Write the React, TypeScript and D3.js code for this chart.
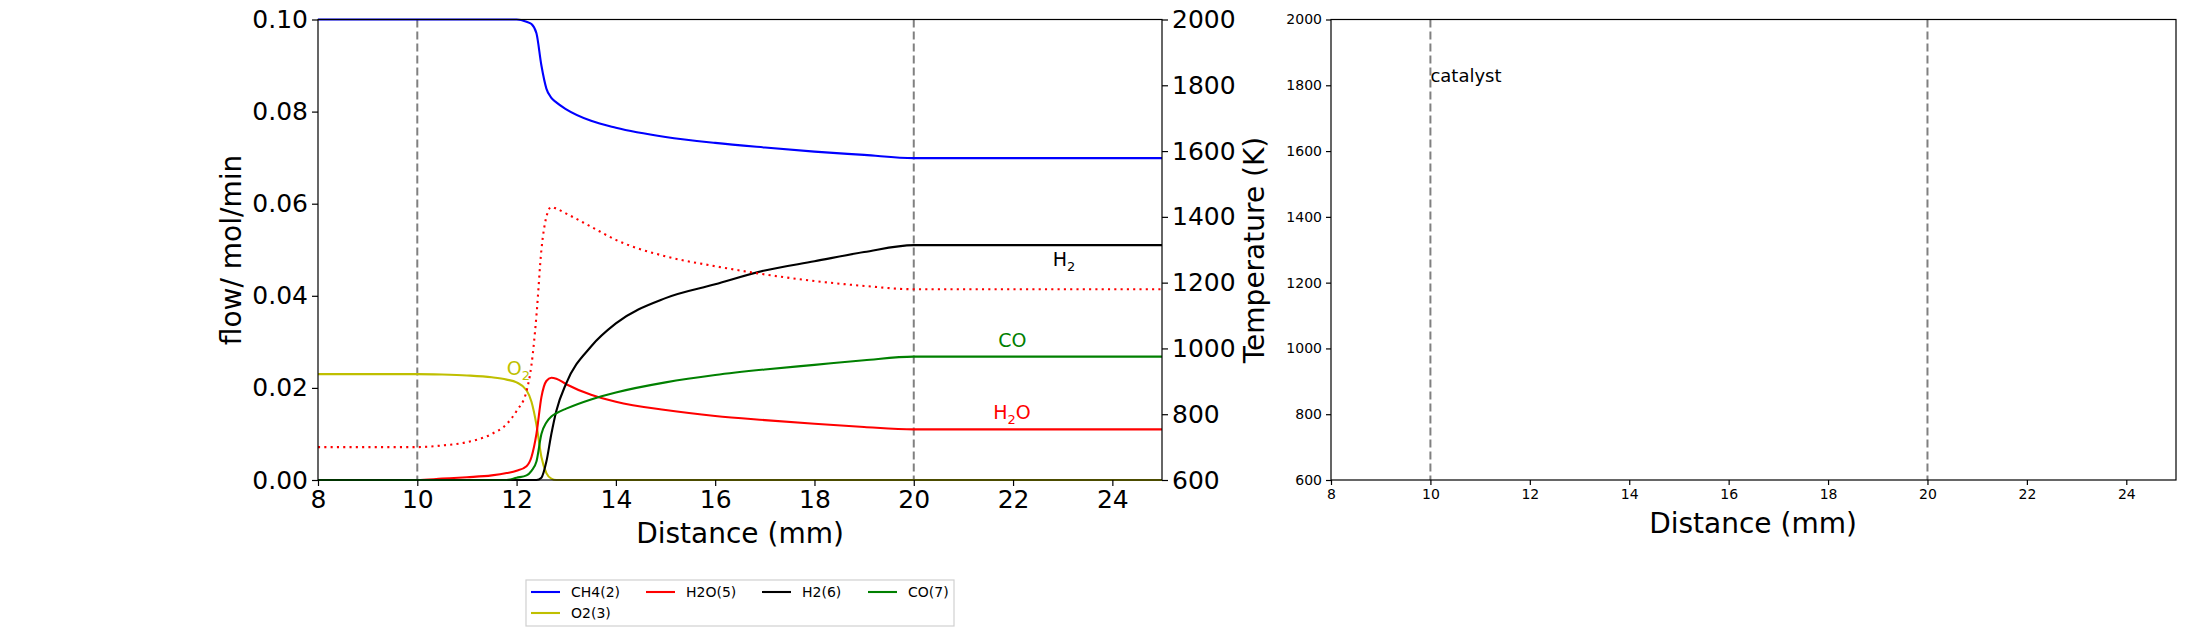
import { useEffect, useRef } from 'react'
import * as d3 from 'd3'

const distance = [8, 9, 10, 10.5, 11, 11.5, 11.8, 12, 12.2, 12.3, 12.4, 12.5, 12.6, 12.7, 12.8, 13, 13.5, 14, 15, 16, 17, 18, 19, 20, 21, 22, 23, 24, 25]
const ch4 = [0.1, 0.1, 0.1, 0.1, 0.1, 0.1, 0.1, 0.1, 0.0995, 0.099, 0.097, 0.09, 0.085, 0.083, 0.082, 0.0805, 0.078, 0.0765, 0.0745, 0.0732, 0.0722, 0.0713, 0.0706, 0.0699, 0.0699, 0.0699, 0.0699, 0.0699, 0.0699]
const o2 = [0.023, 0.023, 0.023, 0.0229, 0.0227, 0.0223, 0.0218, 0.0212, 0.0195, 0.017, 0.012, 0.005, 0.0015, 0.0003, 0, 0, 0, 0, 0, 0, 0, 0, 0, 0, 0, 0, 0, 0, 0]
const h2o = [0, 0, 0, 0.0003, 0.0006, 0.001, 0.0015, 0.002, 0.003, 0.005, 0.01, 0.018, 0.0215, 0.0222, 0.022, 0.0208, 0.0185, 0.017, 0.0152, 0.0139, 0.013, 0.0122, 0.0115, 0.011, 0.011, 0.011, 0.011, 0.011, 0.011]
const h2 = [0, 0, 0, 0, 0, 0, 0, 0, 0, 0, 0, 0.0005, 0.004, 0.01, 0.015, 0.021, 0.029, 0.034, 0.0395, 0.0425, 0.0455, 0.0475, 0.0495, 0.051, 0.051, 0.051, 0.051, 0.051, 0.051]
const co = [0, 0, 0, 0, 0, 0, 0, 0.0005, 0.001, 0.002, 0.004, 0.01, 0.0125, 0.0138, 0.0145, 0.0155, 0.0175, 0.019, 0.0212, 0.0228, 0.024, 0.025, 0.026, 0.0268, 0.0268, 0.0268, 0.0268, 0.0268, 0.0268]
const temperature = [700, 700, 700, 705, 715, 740, 770, 810, 870, 950, 1100, 1300, 1400, 1430, 1425, 1410, 1370, 1330, 1280, 1250, 1225, 1205, 1190, 1180, 1180, 1180, 1180, 1180, 1180]

const series = [
  { name: 'CH4(2)', values: ch4, color: '#0000ff' },
  { name: 'O2(3)', values: o2, color: '#bfbf00' },
  { name: 'H2O(5)', values: h2o, color: '#ff0000' },
  { name: 'H2(6)', values: h2, color: '#000000' },
  { name: 'CO(7)', values: co, color: '#008000' },
]
const labels = [
  { text: 'H', sub: '2', x: 22.8, y: 0.0465, color: '#000000' },
  { text: 'CO', sub: '', x: 21.7, y: 0.0288, color: '#008000' },
  { text: 'H', sub: '2', tail: 'O', x: 21.6, y: 0.0133, color: '#ff0000' },
  { text: 'O', sub: '2', x: 11.8, y: 0.0228, color: '#bfbf00' },
]
const catalystEdges = [10, 20]
const xTicks = [8, 10, 12, 14, 16, 18, 20, 22, 24]
const flowTicks = [0, 0.02, 0.04, 0.06, 0.08, 0.1]
const tempTicks = [600, 800, 1000, 1200, 1400, 1600, 1800, 2000]

export default function App() {
  const ref = useRef<SVGSVGElement | null>(null)

  useEffect(() => {
    const svg = d3.select(ref.current)
    svg.selectAll('*').remove()
    const font = 'DejaVu Sans'
    const top = 19.5, bottom = 480

    const styleAxis = (g: any, size: number) => {
      g.selectAll('text').style('font-family', font).style('font-size', `${size}px`).attr('fill', '#000')
      g.selectAll('line').attr('stroke', '#000').attr('stroke-width', 1.2)
      g.select('.domain').remove()
    }

    // Left panel
    const x = d3.scaleLinear().domain([8, 25]).range([318, 1162])
    const y = d3.scaleLinear().domain([0, 0.1]).range([bottom, top])
    const yT = d3.scaleLinear().domain([600, 2000]).range([bottom, top])

    catalystEdges.forEach(e => {
      svg.append('line').attr('x1', x(e)).attr('x2', x(e)).attr('y1', top).attr('y2', bottom)
        .attr('stroke', '#808080').attr('stroke-width', 2).attr('stroke-dasharray', '8,4')
    })

    const line = d3.line<number>().x((_, i) => x(distance[i])).y(d => y(d)).curve(d3.curveMonotoneX)
    series.forEach(s => {
      svg.append('path').datum(s.values).attr('fill', 'none').attr('stroke', s.color).attr('stroke-width', 2.1).attr('d', line)
    })
    const tLine = d3.line<number>().x((_, i) => x(distance[i])).y(d => yT(d)).curve(d3.curveMonotoneX)
    svg.append('path').datum(temperature).attr('fill', 'none').attr('stroke', '#ff0000').attr('stroke-width', 2.1)
      .attr('stroke-dasharray', '2.1,4.2').attr('d', tLine)

    labels.forEach(l => {
      const t = svg.append('text').attr('x', x(l.x)).attr('y', y(l.y)).attr('fill', l.color)
        .style('font-family', font).style('font-size', '19px').text(l.text)
      if (l.sub) t.append('tspan').attr('dy', 5).style('font-size', '13px').text(l.sub)
      if (l.tail) t.append('tspan').attr('dy', -5).text(l.tail)
    })

    svg.append('rect').attr('x', 318).attr('y', top).attr('width', 844).attr('height', bottom - top)
      .attr('fill', 'none').attr('stroke', '#000').attr('stroke-width', 1.2)

    styleAxis(svg.append('g').attr('transform', `translate(0,${bottom})`)
      .call(d3.axisBottom(x).tickValues(xTicks).tickFormat(d3.format('d')).tickSize(6).tickPadding(4)), 25)
    styleAxis(svg.append('g').attr('transform', `translate(318,0)`)
      .call(d3.axisLeft(y).tickValues(flowTicks).tickFormat(d3.format('.2f')).tickSize(6).tickPadding(4)), 25)
    styleAxis(svg.append('g').attr('transform', `translate(1162,0)`)
      .call(d3.axisRight(yT).tickValues(tempTicks).tickFormat(d3.format('d')).tickSize(6).tickPadding(4)), 25)

    svg.append('text').attr('x', 740).attr('y', 543).attr('text-anchor', 'middle')
      .style('font-family', font).style('font-size', '28px').text('Distance (mm)')
    svg.append('text').attr('transform', `translate(241,250) rotate(-90)`).attr('text-anchor', 'middle')
      .style('font-family', font).style('font-size', '28px').text('flow/ mol/min')
    svg.append('text').attr('transform', `translate(1264,250) rotate(-90)`).attr('text-anchor', 'middle')
      .style('font-family', font).style('font-size', '28px').text('Temperature (K)')

    // Legend
    const lg = svg.append('g').attr('transform', 'translate(526,580)')
    lg.append('rect').attr('width', 428).attr('height', 46).attr('fill', '#fff').attr('stroke', '#d0d0d0').attr('stroke-width', 1.2)
    const legendOrder = ['CH4(2)', 'H2O(5)', 'H2(6)', 'CO(7)', 'O2(3)']
    const colX = [5, 120, 236, 342]
    legendOrder.forEach((n, i) => {
      const s = series.find(d => d.name === n)!
      const cx = colX[i % 4], cy = i < 4 ? 12 : 33
      lg.append('line').attr('x1', cx).attr('x2', cx + 29).attr('y1', cy).attr('y2', cy).attr('stroke', s.color).attr('stroke-width', 2.1)
      lg.append('text').attr('x', cx + 40).attr('y', cy + 5).style('font-family', font).style('font-size', '14px').text(n)
    })

    // Right panel
    const x2 = d3.scaleLinear().domain([8, 25]).range([1331, 2176])
    const y2 = d3.scaleLinear().domain([600, 2000]).range([bottom, top])
    catalystEdges.forEach(e => {
      svg.append('line').attr('x1', x2(e)).attr('x2', x2(e)).attr('y1', top).attr('y2', bottom)
        .attr('stroke', '#808080').attr('stroke-width', 2).attr('stroke-dasharray', '8,4')
    })
    svg.append('text').attr('x', x2(10)).attr('y', y2(1810)).style('font-family', font).style('font-size', '18px').text('catalyst')
    svg.append('rect').attr('x', 1331).attr('y', top).attr('width', 845).attr('height', bottom - top)
      .attr('fill', 'none').attr('stroke', '#000').attr('stroke-width', 1.2)
    styleAxis(svg.append('g').attr('transform', `translate(0,${bottom})`)
      .call(d3.axisBottom(x2).tickValues(xTicks).tickFormat(d3.format('d')).tickSize(5).tickPadding(4)), 14)
    styleAxis(svg.append('g').attr('transform', `translate(1331,0)`)
      .call(d3.axisLeft(y2).tickValues(tempTicks).tickFormat(d3.format('d')).tickSize(5).tickPadding(4)), 14)
    svg.append('text').attr('x', 1753).attr('y', 533).attr('text-anchor', 'middle')
      .style('font-family', font).style('font-size', '28px').text('Distance (mm)')
  }, [])

  return <svg ref={ref} width={2190} height={636} style={{ display: 'block', position: 'absolute', left: 0, top: 0 }} />
}
